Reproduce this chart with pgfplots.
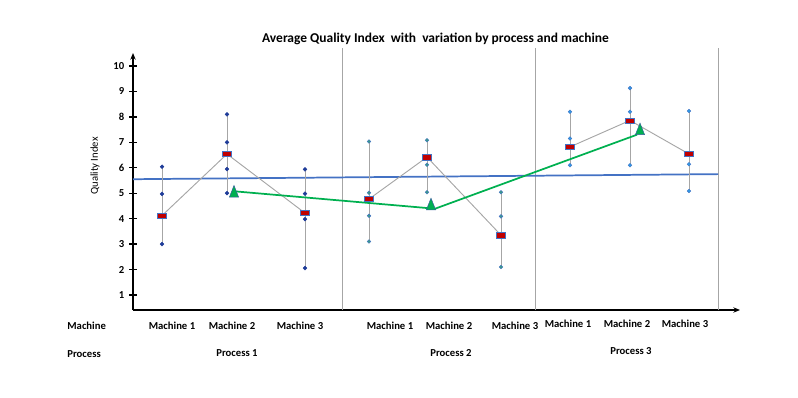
\documentclass[border=0pt]{standalone}
\usepackage{fontspec}
\setmainfont{Carlito}
\usepackage{pgfplots}
\pgfplotsset{compat=1.18}
\usetikzlibrary{arrows.meta}
\definecolor{pone}{HTML}{1F3C99}
\definecolor{ptwo}{HTML}{3A9A8A}
\definecolor{pthree}{HTML}{2E9BE6}
\definecolor{meanred}{HTML}{C00000}
\definecolor{edgeblue}{HTML}{4472C4}
\definecolor{trigreen}{HTML}{00B050}
\definecolor{sepgray}{HTML}{A6A6A6}
\definecolor{linegray}{HTML}{A6A6A6}
\tikzset{
  mean/.style={only marks, mark=square*, mark size=2pt,
    mark options={xscale=1.7, fill=meanred, draw=edgeblue, line width=0.35pt}},
  ebar/.style={linegray, line width=0.75pt},
  conn/.style={linegray, line width=0.7pt},
  sep/.style={sepgray, line width=0.7pt},
  lab/.style={anchor=base, font=\fontsize{8}{9}\selectfont\bfseries},
}
\begin{document}
\begin{tikzpicture}
\path (0,0) rectangle (598.5pt,297.75pt);
\begin{axis}[
  at={(99.75pt,65.25pt)}, anchor=south west, scale only axis,
  width=455.25pt, height=192.75pt,
  xmin=133, xmax=740, ymin=0.41, ymax=10.51,
  axis lines=left,
  axis line style={line width=1.1pt, black, -{Stealth[length=5pt,width=4pt]}},
  xtick=\empty, ytick={1,2,3,4,5,6,7,8,9,10},
  tick align=center, major tick length=6pt,
  tick style={line width=1pt, black},
  yticklabel style={font=\fontsize{8}{9}\selectfont\bfseries},
  /pgf/number format/assume math mode=true,
  clip=false,
]
% separators
\addplot[sep] coordinates {(342,0.41) (342,10.71)};
\addplot[sep] coordinates {(535,0.41) (535,10.71)};
\addplot[sep] coordinates {(718,0.41) (718,10.71)};
% blue reference line
\addplot[edgeblue, line width=1.3pt] coordinates {(133,5.55) (718,5.75)};
% error bars
\addplot[ebar] coordinates {(162,3.0) (162,6.04)};
\addplot[ebar] coordinates {(227,5.0) (227,8.1)};
\addplot[ebar] coordinates {(305,2.06) (305,5.94)};
\addplot[ebar] coordinates {(369,3.1) (369,7.03)};
\addplot[ebar] coordinates {(427,5.04) (427,7.08)};
\addplot[ebar] coordinates {(501,2.1) (501,5.04)};
\addplot[ebar] coordinates {(570,6.1) (570,8.2)};
\addplot[ebar] coordinates {(630,6.1) (630,9.13)};
\addplot[ebar] coordinates {(689,5.09) (689,8.23)};
% mean connectors
\addplot[conn] coordinates {(162,4.12) (227,6.54) (305,4.22)};
\addplot[conn] coordinates {(369,4.77) (427,6.42) (501,3.35)};
\addplot[conn] coordinates {(570,6.82) (630,7.86) (689,6.54)};
% observations
\addplot[only marks, mark=*, mark size=1.4pt, pone] coordinates {
 (162,6.04) (162,4.97) (162,3.0)
 (227,8.1) (227,7.0) (227,5.95) (227,5.0)
 (305,5.94) (305,4.98) (305,3.98) (305,2.06)};
\addplot[only marks, mark=*, mark size=1.4pt, fill=ptwo, draw=edgeblue, line width=0.3pt] coordinates {
 (369,7.03) (369,5.02) (369,4.11) (369,3.1)
 (427,7.08) (427,6.12) (427,5.04)
 (501,5.04) (501,4.09) (501,2.1)};
\addplot[only marks, mark=*, mark size=1.4pt, fill=pthree, draw=edgeblue, line width=0.3pt] coordinates {
 (570,8.2) (570,7.15) (570,6.1)
 (630,9.13) (630,8.2) (630,6.1)
 (689,8.23) (689,6.14) (689,5.09)};
% green line
\addplot[trigreen, line width=1.3pt] coordinates {(236,5.07) (435,4.39) (637,7.3)};
% means
\addplot[mean] coordinates {(162,4.12) (227,6.54) (305,4.22) (369,4.77) (427,6.42) (501,3.35) (570,6.82) (630,7.86) (689,6.54)};
% triangles
\addplot[only marks, mark=triangle*, mark size=4pt,
  mark options={yscale=1.45, fill=trigreen, draw=edgeblue!80!black, line width=0.35pt}]
  coordinates {(234,5.0) (431,4.5) (640,7.45)};
% title and labels
\node[anchor=base, font=\fontsize{10.1}{12}\selectfont\bfseries] at (axis cs:435.5,10.94)
  {Average Quality Index\ \ with\ \ variation by process and machine};
\node[rotate=90, anchor=center, font=\fontsize{8}{9}\selectfont] at (axis cs:95,6.07) {Quality Index};
\node[lab, anchor=base west] at (axis cs:62.7,-0.35) {Machine};
\node[lab, anchor=base west] at (axis cs:62.7,-1.44) {Process};
\node[lab] at (axis cs:172,-0.34) {Machine 1};
\node[lab] at (axis cs:232,-0.34) {Machine 2};
\node[lab] at (axis cs:300,-0.34) {Machine 3};
\node[lab] at (axis cs:390,-0.34) {Machine 1};
\node[lab] at (axis cs:449,-0.34) {Machine 2};
\node[lab] at (axis cs:515,-0.34) {Machine 3};
\node[lab] at (axis cs:568,-0.26) {Machine 1};
\node[lab] at (axis cs:627,-0.26) {Machine 2};
\node[lab] at (axis cs:685,-0.26) {Machine 3};
\node[lab] at (axis cs:237,-1.40) {Process 1};
\node[lab] at (axis cs:451,-1.40) {Process 2};
\node[lab] at (axis cs:631,-1.32) {Process 3};
\end{axis}
\end{tikzpicture}
\end{document}
